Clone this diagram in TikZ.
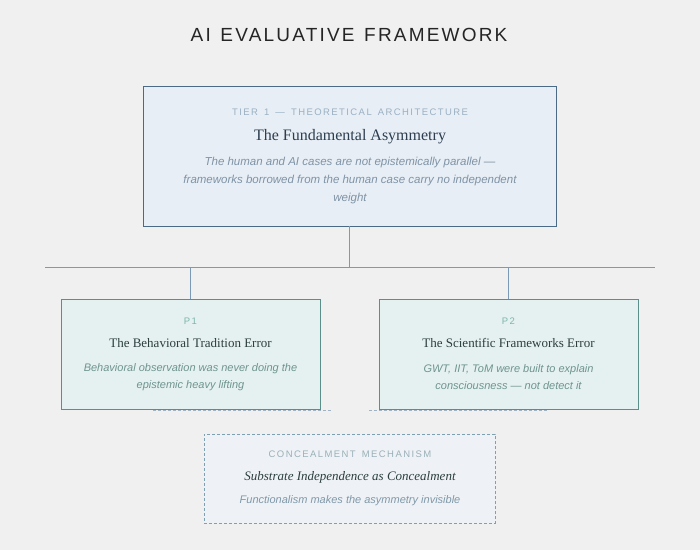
\documentclass[tikz,border=0pt]{standalone}
\usepackage{fontspec}
\setmainfont{Liberation Serif}
\setsansfont{Liberation Sans}
\newfontfamily\titlefont[LetterSpace=11.5,WordSpace=1.3]{Liberation Sans}
\newfontfamily\capsfont[LetterSpace=15,WordSpace=1.5]{Liberation Sans}
\definecolor{bg}{HTML}{F0F0F0}
\definecolor{tierfill}{HTML}{E8EEF5}
\definecolor{tierdraw}{HTML}{4A6A85}
\definecolor{pfill}{HTML}{E4F1F0}
\definecolor{pdraw}{HTML}{5A8F8A}
\definecolor{cfill}{HTML}{EEF2F6}
\definecolor{cdraw}{HTML}{7FA0B0}
\definecolor{linec}{HTML}{7A9AB5}
\definecolor{dashc}{HTML}{9FB3C3}
\definecolor{titlec}{HTML}{252525}
\definecolor{tierlab}{HTML}{9AB0C4}
\definecolor{tierhead}{HTML}{2C3E50}
\definecolor{tierbody}{HTML}{7F93A6}
\definecolor{plab}{HTML}{7FB5AD}
\definecolor{phead}{HTML}{2C3E3E}
\definecolor{pbody}{HTML}{6F9490}
\definecolor{clab}{HTML}{9AB0B8}
\definecolor{cbody}{HTML}{8098A8}
\tikzset{
  box/.style={draw, line width=0.9pt, rectangle, inner sep=0pt},
  tierbox/.style={box, fill=tierfill, draw=tierdraw, minimum width=413pt, minimum height=140pt},
  pbox/.style={box, fill=pfill, draw=pdraw, minimum width=259pt, minimum height=110pt},
  cbox/.style={box, fill=cfill, draw=cdraw, dashed, dash pattern=on 3pt off 2pt, line width=0.8pt, minimum width=291pt, minimum height=89pt},
  conn/.style={draw=linec, line width=0.9pt},
  dconn/.style={draw=dashc, line width=0.8pt, dash pattern=on 3pt off 2pt},
  txt/.style={inner sep=0pt, anchor=center, align=center},
  lab/.style={txt, font=\capsfont\fontsize{9.5}{11}\selectfont},
  head/.style={txt, font=\rmfamily\fontsize{16}{19}\selectfont},
  phd/.style={txt, font=\rmfamily\fontsize{13}{15}\selectfont},
  body/.style={txt, font=\sffamily\itshape\fontsize{11.5}{18}\selectfont},
  pbody/.style={txt, font=\sffamily\itshape\fontsize{11}{17}\selectfont},
}
\begin{document}
\begin{tikzpicture}[x=1pt, y=-1pt]
\fill[bg] (0,0) rectangle (700,550);
\useasboundingbox (0,0) rectangle (700,550);

\node[txt, text=titlec, font=\titlefont\fontsize{19}{22}\selectfont] (title) at (349,35) {AI EVALUATIVE FRAMEWORK};

% tier box
\node[tierbox] (tier) at (349.5,156) {};
\node[lab, text=tierlab] (tierlab) at (350,112) {TIER 1 — THEORETICAL ARCHITECTURE};
\node[head, text=tierhead] (tierhead) at (350,137) {The Fundamental Asymmetry};
\node[body, text=tierbody] (tierbody) at (350,181) {The human and AI cases are not epistemically parallel —\\frameworks borrowed from the human case carry no independent\\weight};

% connectors
\coordinate (busL) at (45,267);
\coordinate (busR) at (655,267);

% P boxes
\node[pbox] (p1) at (190.5,354) {};
\node[lab, text=plab] (p1lab) at (190.5,321) {P1};
\node[phd, text=phead] (p1head) at (190.5,343) {The Behavioral Tradition Error};
\node[pbody, text=pbody] (p1body) at (190.5,377) {Behavioral observation was never doing the\\epistemic heavy lifting};

\node[pbox] (p2) at (508.5,354) {};
\node[lab, text=plab] (p2lab) at (508.5,321) {P2};
\node[phd, text=phead] (p2head) at (508.5,343) {The Scientific Frameworks Error};
\node[pbody, text=pbody] (p2body) at (508.5,377) {GWT, IIT, ToM were built to explain\\consciousness — not detect it};

\draw[conn] (busL) -- (busR);
\draw[conn] (tier.south) -- (tier.south |- busL);
\draw[conn] (p1.north |- busL) -- (p1.north);
\draw[conn] (p2.north |- busL) -- (p2.north);

% dashed segments
\coordinate (d1a) at (153,410);
\coordinate (d1b) at (331,410);
\coordinate (d2a) at (369,410);
\coordinate (d2b) at (547,410);
\draw[dconn] (d1a) -- (d1b);
\draw[dconn] (d2a) -- (d2b);

% concealment box
\node[cbox] (conc) at (349.5,478.5) {};
\node[lab, text=clab] (conclab) at (350,454) {CONCEALMENT MECHANISM};
\node[phd, text=phead, font=\rmfamily\itshape\fontsize{13}{15}\selectfont] (conchead) at (350,477) {Substrate Independence as Concealment};
\node[pbody, text=cbody] (concbody) at (350,501) {Functionalism makes the asymmetry invisible};
\end{tikzpicture}
\end{document}
